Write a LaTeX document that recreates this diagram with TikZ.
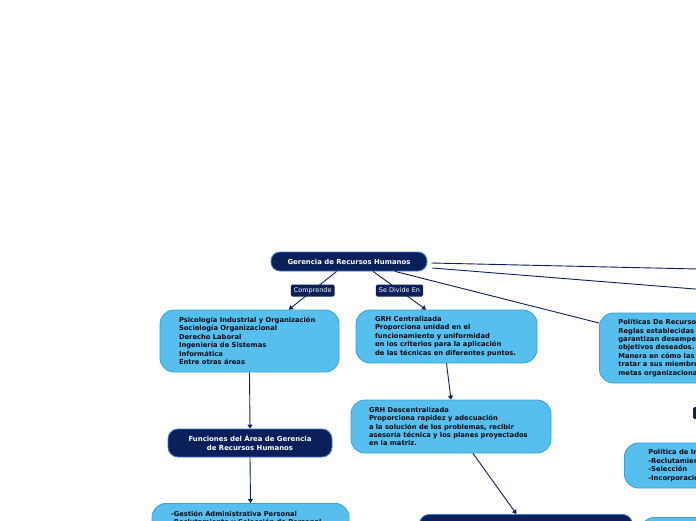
\documentclass[tikz,border=0pt]{standalone}
\usepackage{fontspec}
\setmainfont{DejaVu Sans}
\usetikzlibrary{arrows.meta, positioning}

\definecolor{navy}{HTML}{0B1F5B}
\definecolor{navyrim}{HTML}{3E7BC8}
\definecolor{skyfill}{HTML}{56BFEE}
\definecolor{skyrim}{HTML}{3A9FDB}
\definecolor{ink}{HTML}{0A0A14}

\tikzset{
  darkbox/.style={draw=navyrim, fill=navy, text=white, line width=0.8pt,
    font=\fontsize{6.9}{8.6}\selectfont\bfseries, align=center, inner sep=0pt},
  skybox/.style={draw=skyrim, fill=skyfill, text=ink, line width=0.8pt,
    rounded corners=14pt, font=\fontsize{6.75}{8.45}\selectfont\bfseries,
    align=flush left, inner ysep=0pt},
  tag/.style={fill=navy, text=white, rounded corners=1.5pt, inner xsep=3pt,
    inner ysep=0pt, minimum height=12pt, font=\fontsize{6.5}{7}\selectfont},
  link/.style={draw=navy, line width=0.9pt},
  arrowlink/.style={link, -{Triangle[length=4pt,width=5pt]}}
}

\begin{document}
\begin{tikzpicture}[x=1pt,y=-1pt]
        % page frame, the map runs past the right and bottom edge
        \useasboundingbox (0,0) rectangle (696,520);
        \clip (0,0) rectangle (696,520);
        \fill[white] (0,0) rectangle (696,520);

        % central topic
        \node[darkbox, rounded corners=9pt, minimum width=156pt, minimum height=19pt]
            (grh) at (349,261.5) {Gerencia de Recursos Humanos};

        % first level boxes
        \node[skybox, inner xsep=19pt, text width=141pt, minimum height=62pt]
            (areas) at (249.5,341) {Psicología Industrial y Organización\\
            Sociología Organizacional\\ Derecho Laboral\\ Ingeniería de Sistemas\\
            Informática\\ Entre otras áreas};
        \node[skybox, inner xsep=19pt, text width=143pt, minimum height=53pt]
            (central) at (446.5,336.5) {GRH Centralizada\\
            Proporciona unidad en el\\ funcionamiento y uniformidad\\
            en los criterios para la aplicación\\ de las técnicas en diferentes puntos.};
        \node[skybox, inner xsep=19pt, text width=150pt, minimum height=70pt, anchor=west]
            (politicas) at (599,348) {Políticas De Recursos Humanos\\
            Reglas establecidas para\\ garantizan desempeño de los\\ objetivos deseados.\\
            Manera en cómo las organizaciones\\ tratar a sus miembros para lograr\\
            metas organizacionales.};

        % second level boxes
        \node[skybox, inner xsep=18pt, text width=164pt, minimum height=53pt]
            (descentral) at (451,426.5) {GRH Descentralizada\\
            Proporciona rapidez y adecuación\\ a la solución de los problemas, recibir\\
            asesoría técnica y los planes proyectados\\ en la matriz.};
        \node[darkbox, rounded corners=10pt, minimum width=164pt, minimum height=28pt]
            (funciones) at (250,443) {Funciones del Área de Gerencia\\ de Recursos Humanos};
        \node[skybox, inner xsep=19pt, text width=159pt, inner ysep=7.5pt, anchor=north]
            (gestion) at (250.5,503) {-Gestión Administrativa Personal\\
            -Reclutamiento y Selección de Personal\\ };
        \node[skybox, inner xsep=24pt, text width=110pt, minimum height=45pt, anchor=west]
            (integra) at (624,465.5) {Política de Integración\\ -Reclutamiento\\
            -Selección\\ -Incorporación};

        % boxes cut by the page edge
        \node[darkbox, rounded corners=10pt, minimum width=213pt, minimum height=28pt,
            anchor=north west] (abajo) at (419,514) {};
        \node[tag, minimum width=40pt, anchor=west] (tagder) at (693,413) {};
        \node[skybox, minimum width=120pt, minimum height=40pt, anchor=north west]
            (esquina) at (640,517) {};
        \coordinate (fuera1) at (720,269.5);
        \coordinate (fuera2) at (720,291);

        % connectors
        \draw[arrowlink] (grh) -- node[tag] {Comprende} (areas);
        \draw[arrowlink] ([xshift=24pt]grh.south) -- node[tag] {Se Divide En}
            ([xshift=-20.5pt]central.north);
        \draw[link] ([xshift=46pt]grh.south) -- ([yshift=25pt]politicas.west);
        \draw[link] ([xshift=4pt,yshift=-1.5pt]grh.east) -- (fuera1);
        \draw[link] ([xshift=5pt,yshift=-6.5pt]grh.east) -- (fuera2);
        \draw[arrowlink] (central.south) -- (descentral.north);
        \draw[arrowlink] ([xshift=22pt]descentral.south) -- ([xshift=-9.5pt]abajo.north);
        \draw[arrowlink] (areas.south) -- (funciones.north);
        \draw[arrowlink] (funciones.south) -- (gestion.north);
    \end{tikzpicture}
\end{document}
